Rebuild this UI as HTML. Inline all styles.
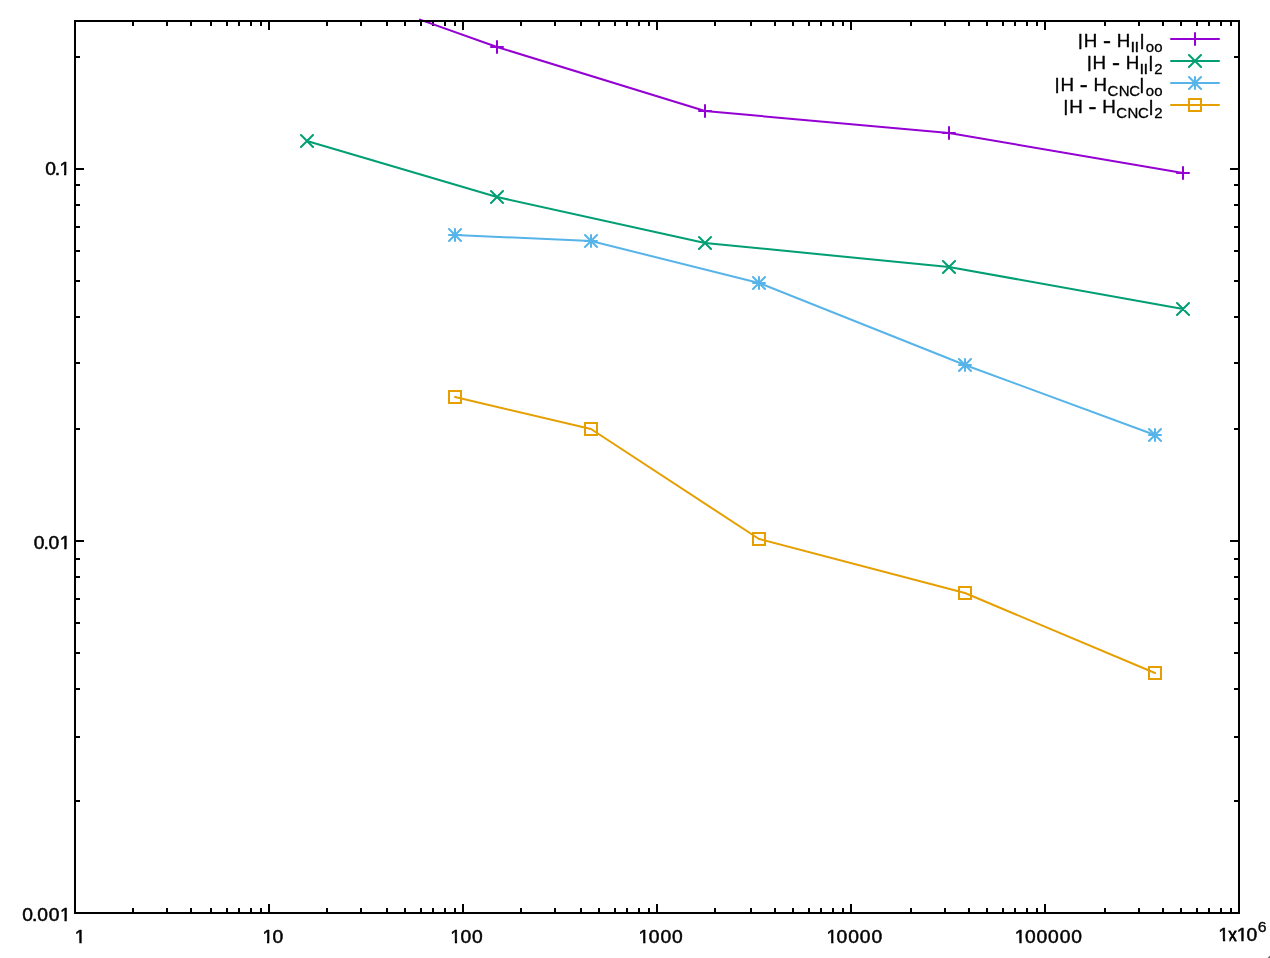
<!DOCTYPE html>
<html><head><meta charset="utf-8"><title>plot</title>
<style>html,body{margin:0;padding:0;background:#fff;overflow:hidden}svg{display:block;will-change:transform}text{font-family:"Liberation Sans",sans-serif}</style></head><body>
<svg width="1270" height="958" viewBox="0 0 1270 958">
<rect width="1270" height="958" fill="#fff"/>
<path d="M133 913v-5M133 21v5M167 913v-5M167 21v5M191 913v-5M191 21v5M211 913v-5M211 21v5M227 913v-5M227 21v5M239 913v-5M239 21v5M251 913v-5M251 21v5M261 913v-5M261 21v5M269 913v-9M269 21v9M327 913v-5M327 21v5M361 913v-5M361 21v5M387 913v-5M387 21v5M405 913v-5M405 21v5M421 913v-5M421 21v5M433 913v-5M433 21v5M445 913v-5M445 21v5M455 913v-5M455 21v5M463 913v-9M463 21v9M521 913v-5M521 21v5M555 913v-5M555 21v5M581 913v-5M581 21v5M599 913v-5M599 21v5M615 913v-5M615 21v5M627 913v-5M627 21v5M639 913v-5M639 21v5M649 913v-5M649 21v5M657 913v-9M657 21v9M715 913v-5M715 21v5M751 913v-5M751 21v5M775 913v-5M775 21v5M793 913v-5M793 21v5M809 913v-5M809 21v5M821 913v-5M821 21v5M833 913v-5M833 21v5M843 913v-5M843 21v5M851 913v-9M851 21v9M911 913v-5M911 21v5M945 913v-5M945 21v5M969 913v-5M969 21v5M987 913v-5M987 21v5M1003 913v-5M1003 21v5M1015 913v-5M1015 21v5M1027 913v-5M1027 21v5M1037 913v-5M1037 21v5M1045 913v-9M1045 21v9M1105 913v-5M1105 21v5M1139 913v-5M1139 21v5M1163 913v-5M1163 21v5M1181 913v-5M1181 21v5M1197 913v-5M1197 21v5M1209 913v-5M1209 21v5M1221 913v-5M1221 21v5M1231 913v-5M1231 21v5M75 169h9M1239 169h-9M75 541h9M1239 541h-9M75 57h5M1239 57h-5M75 185h5M1239 185h-5M75 205h5M1239 205h-5M75 227h5M1239 227h-5M75 251h5M1239 251h-5M75 281h5M1239 281h-5M75 317h5M1239 317h-5M75 363h5M1239 363h-5M75 429h5M1239 429h-5M75 559h5M1239 559h-5M75 577h5M1239 577h-5M75 599h5M1239 599h-5M75 623h5M1239 623h-5M75 653h5M1239 653h-5M75 689h5M1239 689h-5M75 737h5M1239 737h-5M75 801h5M1239 801h-5" stroke="#000" stroke-width="2" fill="none"/>
<g stroke="#9400d3">
<path d="M1171 39H1219M420.0 19.6L497 47L705 111L949 133L1183 173" stroke-width="2" fill="none" stroke-linejoin="round" stroke-linecap="round"/>
<path d="M1189 39h12M1195 33v12M491 47h12M497 41v12M699 111h12M705 105v12M943 133h12M949 127v12M1177 173h12M1183 167v12" stroke-width="2" fill="none" stroke-linejoin="miter" stroke-linecap="round"/>
</g>
<g stroke="#009e73">
<path d="M1171 61H1219M307 141L497 197L705 243L949 267L1183 309" stroke-width="2" fill="none" stroke-linejoin="round" stroke-linecap="round"/>
<path d="M1189 55l12 12M1189 67l12 -12M301 135l12 12M301 147l12 -12M491 191l12 12M491 203l12 -12M699 237l12 12M699 249l12 -12M943 261l12 12M943 273l12 -12M1177 303l12 12M1177 315l12 -12" stroke-width="2" fill="none" stroke-linejoin="miter" stroke-linecap="round"/>
</g>
<g stroke="#56b4e9">
<path d="M1171 83H1219M455 235L591 241L759 283L965 365L1155 435" stroke-width="2" fill="none" stroke-linejoin="round" stroke-linecap="round"/>
<path d="M1189 83h12M1195 77v12M1189 77l12 12M1189 89l12 -12M449 235h12M455 229v12M449 229l12 12M449 241l12 -12M585 241h12M591 235v12M585 235l12 12M585 247l12 -12M753 283h12M759 277v12M753 277l12 12M753 289l12 -12M959 365h12M965 359v12M959 359l12 12M959 371l12 -12M1149 435h12M1155 429v12M1149 429l12 12M1149 441l12 -12" stroke-width="2" fill="none" stroke-linejoin="miter" stroke-linecap="round"/>
</g>
<g stroke="#e69f00">
<path d="M1171 105H1219M455 397L591 429L759 539L965 593L1155 673" stroke-width="2" fill="none" stroke-linejoin="round" stroke-linecap="round"/>
<path d="M1189 99h12v12h-12zM449 391h12v12h-12zM585 423h12v12h-12zM753 533h12v12h-12zM959 587h12v12h-12zM1149 667h12v12h-12z" stroke-width="2" fill="none" stroke-linejoin="miter" stroke-linecap="round"/>
</g>
<rect x="75" y="21" width="1164" height="892" fill="none" stroke="#000" stroke-width="2"/>
<clipPath id="nofoot"><path clip-rule="evenodd" d="M0 0H1270V958H0zM74.79 940.90H79.39V944.00H74.79zM81.60 940.90H86.00V944.00H81.60zM262.39 940.90H266.99V944.00H262.39zM269.20 940.90H273.60V944.00H269.20zM450.29 940.90H454.89V944.00H450.29zM457.10 940.90H461.50V944.00H457.10zM638.59 940.90H643.19V944.00H638.59zM645.40 940.90H649.80V944.00H645.40zM826.59 940.90H831.19V944.00H826.59zM833.40 940.90H837.80V944.00H833.40zM1014.79 940.90H1019.39V944.00H1014.79zM1021.60 940.90H1026.00V944.00H1021.60zM1218.34 938.90H1222.94V942.00H1218.34zM1225.15 938.90H1229.55V942.00H1225.15zM1236.74 938.90H1241.34V942.00H1236.74zM1243.55 938.90H1247.95V942.00H1243.55zM59.44 172.90H64.04V176.00H59.44zM66.25 172.90H70.65V176.00H66.25zM59.69 546.90H64.29V550.00H59.69zM66.50 546.90H70.90V550.00H66.50zM59.89 918.90H64.49V922.00H59.89zM66.70 918.90H71.10V922.00H66.70z"/></clipPath>
<g fill="#000" stroke="#000" stroke-linejoin="round" clip-path="url(#nofoot)">
<text transform="translate(0,943) scale(1.056,1)" x="70.83" y="0" font-size="18.25" stroke-width="0.48">1</text>
<text transform="translate(0,943) scale(1.056,1)" x="248.48 258.05" y="0" font-size="18.25" stroke-width="0.48">10</text>
<text transform="translate(0,943) scale(1.056,1)" x="426.42 435.99 446.97" y="0" font-size="18.25" stroke-width="0.48">100</text>
<text transform="translate(0,943) scale(1.056,1)" x="604.73 614.39 625.38 636.36" y="0" font-size="18.25" stroke-width="0.48">1000</text>
<text transform="translate(0,943) scale(1.056,1)" x="782.76 792.24 803.22 814.21 825.19" y="0" font-size="18.25" stroke-width="0.48">10000</text>
<text transform="translate(0,943) scale(1.056,1)" x="960.98 970.55 981.53 992.52 1003.50 1014.49" y="0" font-size="18.25" stroke-width="0.48">100000</text>
<text transform="translate(0,941) scale(1.056,1)" x="1153.74" y="0" font-size="18.25" stroke-width="0.48">1</text>
<text transform="translate(0,941) scale(0.94,1.035)" x="1306.66" y="0" font-size="18.25" stroke-width="0.75">x</text>
<text transform="translate(0,941) scale(1.056,1)" x="1171.16 1180.35" y="0" font-size="18.25" stroke-width="0.48">10</text>
<text transform="translate(0,931.6) scale(1.1,1)" x="1143.36" y="0" font-size="14.4" stroke-width="0.3">6</text>
<text transform="translate(0,175) scale(1.056,1)" x="42.95 51.92 56.29" y="0" font-size="18.25" stroke-width="0.48">0.1</text>
<text transform="translate(0,549) scale(1.056,1)" x="31.91 41.21 45.98 56.53" y="0" font-size="18.25" stroke-width="0.48">0.01</text>
<text transform="translate(0,921) scale(1.056,1)" x="21.12 30.42 35.18 46.17 56.72" y="0" font-size="18.25" stroke-width="0.48">0.001</text>
<text transform="translate(0,45.85) scale(1.087,0.945)" x="991.54" y="0" font-size="18.4" stroke-width="0.35">|</text>
<text transform="translate(0,47) scale(1.02,1)" x="1062.44" y="0" font-size="18.4" stroke-width="0.35">H</text>
<text transform="translate(0,48.1) scale(1.0,1)" x="1103.12" y="0" font-size="23.919999999999998" stroke-width="0.45499999999999996">-</text>
<text transform="translate(0,47) scale(1.02,1)" x="1094.92" y="0" font-size="18.4" stroke-width="0.35">H</text>
<text transform="translate(0,51.85) scale(1.16,1)" x="974.68 978.11" y="0" font-size="14.4" stroke-width="0.3">II</text>
<text transform="translate(0,45.85) scale(1.087,0.945)" x="1048.25" y="0" font-size="18.4" stroke-width="0.35">|</text>
<text transform="translate(0,51.85) scale(1.04,1)" x="1101.57 1109.94" y="0" font-size="14.4" stroke-width="0.3">oo</text>
<text transform="translate(0,67.85) scale(1.087,0.945)" x="999.73" y="0" font-size="18.4" stroke-width="0.35">|</text>
<text transform="translate(0,69) scale(1.02,1)" x="1071.17" y="0" font-size="18.4" stroke-width="0.35">H</text>
<text transform="translate(0,70.1) scale(1.0,1)" x="1112.02" y="0" font-size="23.919999999999998" stroke-width="0.45499999999999996">-</text>
<text transform="translate(0,69) scale(1.02,1)" x="1103.65" y="0" font-size="18.4" stroke-width="0.35">H</text>
<text transform="translate(0,73.85) scale(1.16,1)" x="982.35 985.78" y="0" font-size="14.4" stroke-width="0.3">II</text>
<text transform="translate(0,67.85) scale(1.087,0.945)" x="1056.44" y="0" font-size="18.4" stroke-width="0.35">|</text>
<text transform="translate(0,73.85) scale(1.04,1)" x="1109.89" y="0" font-size="14.4" stroke-width="0.3">2</text>
<text transform="translate(0,89.85) scale(1.087,0.945)" x="970.10" y="0" font-size="18.4" stroke-width="0.35">|</text>
<text transform="translate(0,91) scale(1.02,1)" x="1039.60" y="0" font-size="18.4" stroke-width="0.35">H</text>
<text transform="translate(0,92.1) scale(1.0,1)" x="1079.82" y="0" font-size="23.919999999999998" stroke-width="0.45499999999999996">-</text>
<text transform="translate(0,91) scale(1.02,1)" x="1072.08" y="0" font-size="18.4" stroke-width="0.35">H</text>
<text transform="translate(0,95.85) scale(1.04,1)" x="1064.90 1075.76 1085.86" y="0" font-size="14.4" stroke-width="0.3">CNC</text>
<text transform="translate(0,89.85) scale(1.087,0.945)" x="1048.12" y="0" font-size="18.4" stroke-width="0.35">|</text>
<text transform="translate(0,95.85) scale(1.04,1)" x="1101.57 1109.94" y="0" font-size="14.4" stroke-width="0.3">oo</text>
<text transform="translate(0,111.85) scale(1.087,0.945)" x="978.20" y="0" font-size="18.4" stroke-width="0.35">|</text>
<text transform="translate(0,113) scale(1.02,1)" x="1048.22" y="0" font-size="18.4" stroke-width="0.35">H</text>
<text transform="translate(0,114.1) scale(1.0,1)" x="1088.62" y="0" font-size="23.919999999999998" stroke-width="0.45499999999999996">-</text>
<text transform="translate(0,113) scale(1.02,1)" x="1080.70" y="0" font-size="18.4" stroke-width="0.35">H</text>
<text transform="translate(0,117.85) scale(1.04,1)" x="1073.36 1084.22 1094.32" y="0" font-size="14.4" stroke-width="0.3">CNC</text>
<text transform="translate(0,111.85) scale(1.087,0.945)" x="1056.62" y="0" font-size="18.4" stroke-width="0.35">|</text>
<text transform="translate(0,117.85) scale(1.04,1)" x="1109.89" y="0" font-size="14.4" stroke-width="0.3">2</text>
</g>
<path d="M1270 955.6L1267.6 958H1270z" fill="#666"/>
</svg></body></html>
